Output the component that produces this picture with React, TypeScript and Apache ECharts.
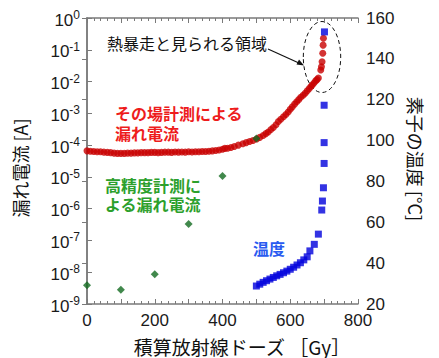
import React, { useEffect, useRef } from "react";
import * as echarts from "echarts";

// Leakage current measured in situ (red) [dose Gy, current A]
const redDose = [0, 10, 20, 30, 40, 50, 60, 70, 80, 90, 100, 110, 120, 130, 140, 150, 160, 170, 180, 190, 200, 210, 220, 230, 240, 250, 260, 270, 280, 290, 300, 310, 320, 330, 340, 350, 360, 370, 380, 390, 400, 407, 415, 425, 435, 447, 460, 470, 480, 490, 501, 510, 520, 528, 535, 543, 550, 558, 565, 572, 580, 587, 594, 600, 606, 613, 619, 625, 631, 638, 644, 650, 656, 661, 665, 670, 675, 679, 683, 690, 692, 694, 696, 697, 698];
const redCurrent = [6.6e-5, 6.4e-5, 6.3e-5, 6.2e-5, 6.2e-5, 6.0e-5, 5.9e-5, 5.8e-5, 5.6e-5, 5.5e-5, 5.5e-5, 5.5e-5, 5.6e-5, 5.6e-5, 5.7e-5, 5.7e-5, 5.8e-5, 5.8e-5, 5.8e-5, 5.9e-5, 5.9e-5, 5.8e-5, 5.9e-5, 6.0e-5, 6.0e-5, 5.9e-5, 6.1e-5, 6.0e-5, 6.1e-5, 6.0e-5, 6.2e-5, 6.1e-5, 6.2e-5, 6.2e-5, 6.3e-5, 6.3e-5, 6.4e-5, 6.6e-5, 6.8e-5, 7.0e-5, 7.4e-5, 7.9e-5, 8.0e-5, 8.4e-5, 9.0e-5, 1.0e-4, 1.1e-4, 1.2e-4, 1.3e-4, 1.4e-4, 1.55e-4, 1.75e-4, 2.0e-4, 2.3e-4, 2.6e-4, 3.1e-4, 3.6e-4, 4.4e-4, 5.5e-4, 6.5e-4, 7.8e-4, 9.2e-4, 1.1e-3, 1.35e-3, 1.6e-3, 1.95e-3, 2.3e-3, 2.7e-3, 3.2e-3, 3.7e-3, 4.3e-3, 5.1e-3, 6.0e-3, 7.0e-3, 7.8e-3, 9.0e-3, 1.05e-2, 1.15e-2, 1.3e-2, 2.3e-2, 2.9e-2, 4.2e-2, 7.8e-2, 1.4e-1, 2.3e-1];

// High-precision leakage current (green) [dose Gy, current A]
const greenDose = [0, 100, 200, 300, 400, 500];
const greenCurrent = [3.9e-9, 2.8e-9, 8.7e-9, 3.3e-7, 1.07e-5, 1.6e-4];

// Device temperature (blue) [dose Gy, °C]
const blueDose = [500, 510, 520, 530, 540, 550, 560, 570, 580, 590, 600, 610, 620, 630, 640, 650, 658, 671, 683, 693, 695, 698, 700, 700, 700, 701];
const blueTemp = [28.8, 29.7, 30.6, 31.4, 32.2, 33.0, 33.8, 34.5, 35.3, 36.1, 37.0, 38.0, 39.1, 40.2, 41.6, 43.1, 46.0, 49.2, 54.2, 66.0, 70.4, 76.9, 88.8, 99.0, 117.3, 153.2];

const xTicks = [0, 200, 400, 600, 800];
const tempTicks = [20, 40, 60, 80, 100, 120, 140, 160];

const LATIN = "'Liberation Sans', Arial, sans-serif";
const CJK = "'Noto Sans CJK JP', 'Noto Sans', sans-serif";
const AXIS_COLOR = "#7a7a7a";
const LABEL_COLOR = "#1a1a1a";

export default function App() {
  const ref = useRef<HTMLDivElement>(null);
  useEffect(() => {
    if (!ref.current) return;
    const chart = echarts.init(ref.current, null, { renderer: "svg" });
    const pair = (xs: number[], ys: number[]) => xs.map((x, i) => [x, ys[i]]);
    const axisLine = { show: true, lineStyle: { color: AXIS_COLOR, width: 1.5 } };
    chart.setOption({
      animation: false,
      grid: { left: 87, right: 81, top: 18, bottom: 54, containLabel: false },
      xAxis: [
        {
          type: "value",
          min: 0,
          max: 800,
          interval: 100,
          position: "bottom",
          axisLine,
          axisTick: { inside: true, length: 5, lineStyle: { color: AXIS_COLOR } },
          minorTick: { show: true, splitNumber: 5, length: 3, lineStyle: { color: AXIS_COLOR } },
          splitLine: { show: false },
          axisLabel: {
            margin: 8,
            fontSize: 17,
            fontFamily: LATIN,
            color: LABEL_COLOR,
            formatter: (v: number) => (xTicks.includes(v) ? String(v) : ""),
          },
        },
        {
          type: "value",
          min: 0,
          max: 800,
          interval: 100,
          position: "top",
          axisLine,
          axisTick: { inside: true, length: 5, lineStyle: { color: AXIS_COLOR } },
          minorTick: { show: true, splitNumber: 5, length: 3, lineStyle: { color: AXIS_COLOR } },
          splitLine: { show: false },
          axisLabel: { show: false },
        },
      ],
      yAxis: [
        {
          type: "log",
          logBase: 10,
          min: 1e-9,
          max: 1,
          interval: 1,
          position: "left",
          axisLine,
          axisTick: { inside: true, length: 5, lineStyle: { color: AXIS_COLOR } },
          splitLine: { show: false },
          axisLabel: {
            margin: 7,
            color: LABEL_COLOR,
            formatter: (v: number) => {
              const e = Math.round(Math.log10(v));
              return "{b|10}{s|" + e + "}";
            },
            rich: {
              b: { fontSize: 17, fontFamily: LATIN, color: LABEL_COLOR, padding: [4, 0, 0, 0] },
              s: { fontSize: 12, fontFamily: LATIN, color: LABEL_COLOR, padding: [0, 0, 6, 0] },
            },
          },
        },
        {
          type: "value",
          min: 20,
          max: 160,
          interval: 20,
          position: "right",
          axisLine,
          axisTick: { inside: true, length: 5, lineStyle: { color: AXIS_COLOR } },
          splitLine: { show: false },
          axisLabel: {
            margin: 8,
            fontSize: 17,
            fontFamily: LATIN,
            color: LABEL_COLOR,
            formatter: (v: number) => (tempTicks.includes(v) ? String(v) : ""),
          },
        },
      ],
      series: [
        {
          type: "scatter",
          xAxisIndex: 0,
          yAxisIndex: 0,
          symbol: "circle",
          symbolSize: 7,
          itemStyle: { color: "#c80000" },
          data: pair(redDose, redCurrent),
        },
        {
          type: "scatter",
          xAxisIndex: 0,
          yAxisIndex: 0,
          symbol: "diamond",
          symbolSize: 8,
          itemStyle: { color: "#116a1f" },
          data: pair(greenDose, greenCurrent),
        },
        {
          type: "scatter",
          xAxisIndex: 0,
          yAxisIndex: 1,
          symbol: "rect",
          symbolSize: 7,
          itemStyle: { color: "#0000dc" },
          data: pair(blueDose, blueTemp),
        },
      ],
      graphic: [
        {
          type: "text",
          x: 20,
          y: 168,
          rotation: Math.PI / 2,
          style: { text: "漏れ電流 [A]", font: `18px ${CJK}`, fill: "#111", align: "center", verticalAlign: "middle" },
        },
        {
          type: "text",
          x: 416,
          y: 159,
          rotation: -Math.PI / 2,
          style: { text: "素子の温度 [°C]", font: `18px ${CJK}`, fill: "#111", align: "center", verticalAlign: "middle" },
        },
        {
          type: "text",
          x: 242,
          y: 346,
          style: { text: "積算放射線ドーズ ［Gy］", font: `19px ${CJK}`, fill: "#111", align: "center", verticalAlign: "middle" },
        },
        {
          type: "text",
          x: 107,
          y: 43,
          style: { text: "熱暴走と見られる領域", font: `16px ${CJK}`, fill: "#111", align: "left", verticalAlign: "middle" },
        },
        {
          type: "text",
          x: 115,
          y: 123,
          style: { text: "その場計測による\n漏れ電流", font: `bold 16px ${CJK}`, lineHeight: 20, fill: "#ee1c1c", align: "left", verticalAlign: "middle" },
        },
        {
          type: "text",
          x: 105,
          y: 194.5,
          style: { text: "高精度計測に\nよる漏れ電流", font: `bold 16px ${CJK}`, lineHeight: 19, fill: "#2ca02c", align: "left", verticalAlign: "middle" },
        },
        {
          type: "text",
          x: 253,
          y: 248,
          style: { text: "温度", font: `bold 16px ${CJK}`, fill: "#2a5bf0", align: "left", verticalAlign: "middle" },
        },
        {
          type: "line",
          shape: { x1: 268, y1: 49, x2: 300, y2: 63.5 },
          style: { stroke: "#111", lineWidth: 1.2 },
        },
        {
          type: "polygon",
          shape: { points: [[304, 65.5], [296.5, 64.5], [299, 59.5]] },
          style: { fill: "#111" },
        },
        {
          type: "ellipse",
          shape: { cx: 322, cy: 57, rx: 18.7, ry: 35.5 },
          style: { fill: "none", stroke: "#111", lineWidth: 1, lineDash: [4, 3] },
        },
      ],
    });
    return () => chart.dispose();
  }, []);
  return <div ref={ref} style={{ position: "absolute", left: 0, top: 0, width: 439, height: 358 }} />;
}
